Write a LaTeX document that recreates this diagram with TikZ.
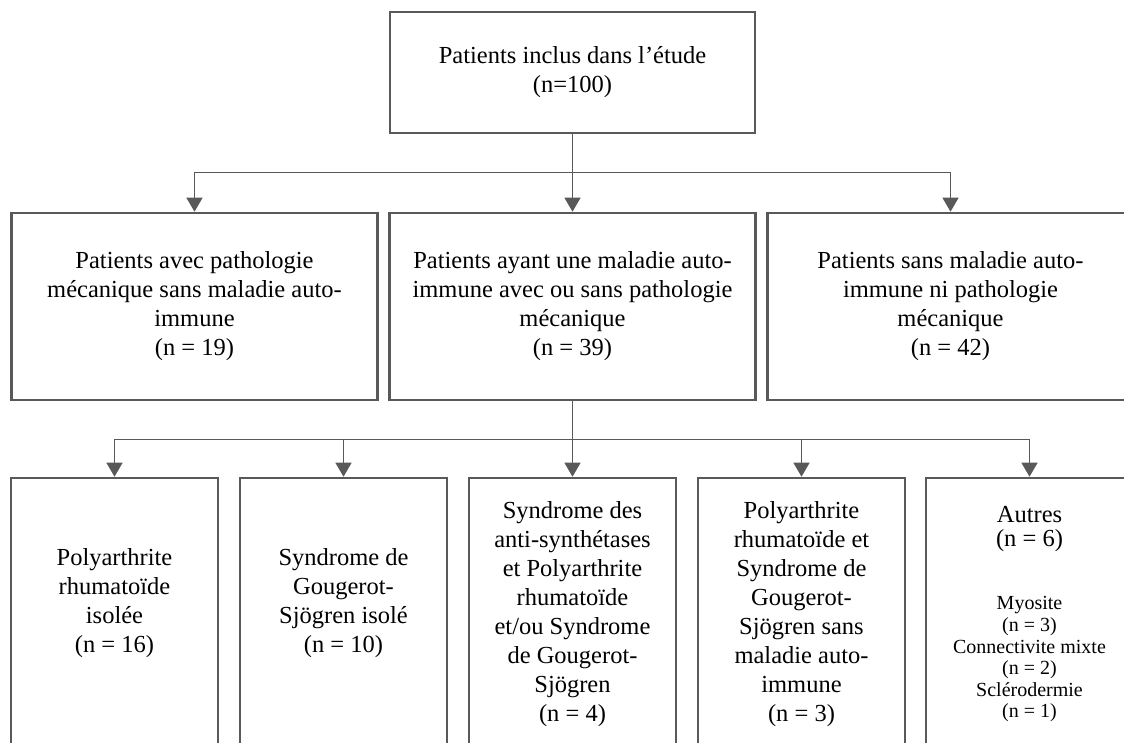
\documentclass[tikz,border=0pt]{standalone}
\usepackage{fontspec}
\setmainfont{Liberation Serif}
\usetikzlibrary{arrows.meta}
\definecolor{ln}{HTML}{595959}
\newcommand{\brch}[2]{\draw[ln] (#1.south) -- ++(0,38) -| (#2.north); }
\newcommand{\sm}[1]{{\fontsize{20}{21.6}\selectfont #1}}

\begin{document}
\begin{tikzpicture}[->,>={Triangle[width=16pt,length=14pt]},x=1pt,y=-1pt,line width=1.4pt,
  box/.style={draw=ln,line width=2.6pt,align=center,inner sep=0pt,font=\fontsize{24.5}{29}\selectfont},
  topbox/.style={box,minimum width=365pt,minimum height=121pt},
  midbox/.style={box,minimum width=366pt,minimum height=187pt},
  lowbox/.style={box,minimum width=207pt,minimum height=273pt}]
  \useasboundingbox (0,0) rectangle (1124,742);
  \clip[-] (0,0) rectangle (1124,742);
  \node[topbox] (0) at (572.5,72.5) {Patients inclus dans l’étude\\(n=100)};
  \node[midbox] (2) [node distance=234pt,below of=0] {Patients ayant une maladie auto-\\immune avec ou sans pathologie\\mécanique\\(n = 39)};
  \node[midbox] (1) [node distance=378pt,left of=2] {Patients avec pathologie\\mécanique sans maladie auto-\\immune\\(n = 19)};
  \node[midbox] (3) [node distance=378pt,right of=2] {Patients sans maladie auto-\\immune ni pathologie\\mécanique\\(n = 42)};
  \node[lowbox] (c) [node distance=308pt,below of=2] {Syndrome des\\anti-synthétases\\et Polyarthrite\\rhumatoïde\\et/ou Syndrome\\de Gougerot-\\Sjögren\\(n = 4)};
  \node[lowbox] (b) [node distance=229pt,left of=c] {Syndrome de\\Gougerot-\\Sjögren isolé\\(n = 10)\\~};
  \node[lowbox] (a) [node distance=229pt,left of=b] {Polyarthrite\\rhumatoïde\\isolée\\(n = 16)\\~};
  \node[lowbox] (d) [node distance=229pt,right of=c] {Polyarthrite\\rhumatoïde et\\Syndrome de\\Gougerot-\\Sjögren sans\\maladie auto-\\immune\\(n = 3)};
  \node[lowbox] (e) [node distance=228pt,right of=d] {Autres\\[-5pt](n = 6)\\[34pt]\sm{Myosite}\\[-7.4pt]\sm{(n = 3)}\\[-7.4pt]\sm{Connectivite mixte}\\[-7.4pt]\sm{(n = 2)}\\[-7.4pt]\sm{Sclérodermie}\\[-7.4pt]\sm{(n = 1)}};
  \brch 01
  \brch 02
  \brch 03
  \brch 2a
  \brch 2b
  \brch 2c
  \brch 2d
  \brch 2e
\end{tikzpicture}
\end{document}
